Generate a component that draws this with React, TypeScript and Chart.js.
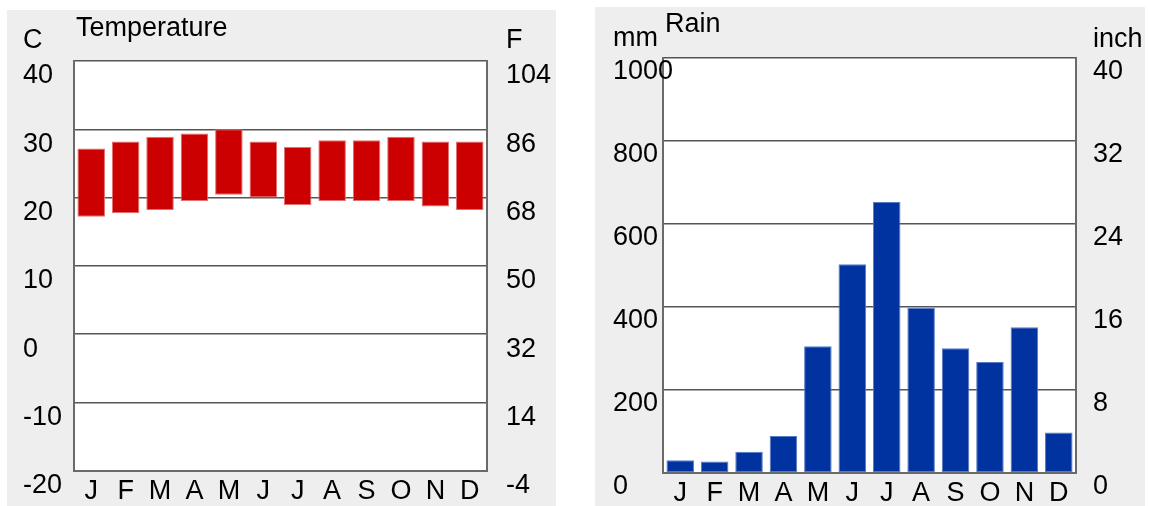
import React, { useEffect, useRef } from "react";
import { Chart, registerables } from "chart.js";

Chart.register(...registerables);

const FONT = '"Liberation Sans", Arial, sans-serif';
const FONT_SIZE = 27;

const months = ["J", "F", "M", "A", "M", "J", "J", "A", "S", "O", "N", "D"];
const tempLow = [17.2, 17.7, 18.2, 19.5, 20.4, 20.0, 18.9, 19.5, 19.5, 19.5, 18.7, 18.2];
const tempHigh = [27.2, 28.2, 28.9, 29.4, 30.0, 28.2, 27.4, 28.4, 28.4, 28.9, 28.2, 28.2];
const rainMm = [30, 27, 51, 89, 305, 503, 653, 398, 300, 267, 351, 97];

const celsiusRange = [-20, 40, 10];
const fahrenheitRange = [-4, 104, 18];
const mmRange = [0, 1000, 200];
const inchRange = [0, 40, 8];

const GRID = "#555555";
const BORDER = "#6a6a6a";

const whiteArea = {
  id: "whiteArea",
  beforeDraw(chart: any) {
    const { ctx, chartArea } = chart;
    ctx.save();
    ctx.fillStyle = "#ffffff";
    ctx.fillRect(chartArea.left, chartArea.top, chartArea.right - chartArea.left, chartArea.bottom - chartArea.top);
    ctx.restore();
  },
};

function textPlugin(items: { t: string; x: number; y: number }[]) {
  return {
    id: "panelText",
    afterDraw(chart: any) {
      const ctx = chart.ctx;
      ctx.save();
      ctx.font = `${FONT_SIZE}px ${FONT}`;
      ctx.fillStyle = "#000";
      ctx.textAlign = "left";
      ctx.textBaseline = "alphabetic";
      items.forEach((it) => ctx.fillText(it.t, it.x, it.y));
      ctx.restore();
    },
  };
}

function fixSize(prop: "width" | "height", v: number) {
  return (scale: any) => {
    scale[prop] = v;
  };
}

const plain = (v: any) => String(v);
const tickFont = { family: FONT, size: FONT_SIZE, lineHeight: 1.2 };

function TempChart() {
  const ref = useRef<HTMLCanvasElement>(null);
  useEffect(() => {
    const chart = new Chart(ref.current!, {
      type: "bar",
      data: {
        labels: months,
        datasets: [
          {
            data: tempLow.map((l, i) => [l, tempHigh[i]]) as any,
            backgroundColor: "#cc0000",
            borderColor: "#e27070",
            borderWidth: 1,
            borderSkipped: false,
            barPercentage: 0.8,
            categoryPercentage: 1,
            yAxisID: "y",
          },
        ],
      },
      options: {
        animation: false,
        responsive: false,
        maintainAspectRatio: false,
        layout: { padding: { left: 16, top: 51, right: 0, bottom: 0 } },
        plugins: { legend: { display: false }, tooltip: { enabled: false } },
        scales: {
          x: {
            afterFit: fixSize("height", 31),
            grid: { display: false, drawTicks: false },
            border: { display: true, color: BORDER, width: 2 },
            ticks: { font: tickFont, color: "#000", padding: 5, autoSkip: false, maxRotation: 0 },
          },
          y: {
            position: "left",
            min: celsiusRange[0],
            max: celsiusRange[1],
            afterFit: fixSize("width", 51),
            grid: { color: GRID, lineWidth: 1.5, drawTicks: false },
            border: { display: true, color: BORDER, width: 2 },
            ticks: { stepSize: celsiusRange[2], font: tickFont, color: "#000", crossAlign: "far", labelOffset: 15, padding: 0, callback: plain },
          },
          y2: {
            position: "right",
            min: fahrenheitRange[0],
            max: fahrenheitRange[1],
            afterFit: fixSize("width", 69),
            grid: { display: false, drawTicks: false },
            border: { display: true, color: BORDER, width: 2 },
            ticks: { stepSize: fahrenheitRange[2], font: tickFont, color: "#000", crossAlign: "near", labelOffset: 15, padding: 19, callback: plain },
          },
        },
      },
      plugins: [
        whiteArea,
        textPlugin([
          { t: "C", x: 16, y: 38 },
          { t: "Temperature", x: 69, y: 26 },
          { t: "F", x: 499, y: 38 },
        ]),
      ],
    });
    return () => chart.destroy();
  }, []);
  return <canvas ref={ref} width={549} height={496} style={{ display: "block", background: "#eeeeee" }} />;
}

function RainChart() {
  const ref = useRef<HTMLCanvasElement>(null);
  useEffect(() => {
    const chart = new Chart(ref.current!, {
      type: "bar",
      data: {
        labels: months,
        datasets: [
          {
            data: rainMm,
            backgroundColor: "#0032a0",
            borderColor: "#5a7ac8",
            borderWidth: 1,
            borderSkipped: false,
            barPercentage: 0.8,
            categoryPercentage: 1,
            yAxisID: "y",
          },
        ],
      },
      options: {
        animation: false,
        responsive: false,
        maintainAspectRatio: false,
        layout: { padding: { left: 18, top: 51, right: 0, bottom: 0 } },
        plugins: { legend: { display: false }, tooltip: { enabled: false } },
        scales: {
          x: {
            afterFit: fixSize("height", 33),
            grid: { display: false, drawTicks: false },
            border: { display: true, color: BORDER, width: 2 },
            ticks: { font: tickFont, color: "#000", padding: 5, autoSkip: false, maxRotation: 0 },
          },
          y: {
            position: "left",
            min: mmRange[0],
            max: mmRange[1],
            afterFit: fixSize("width", 50),
            grid: { color: GRID, lineWidth: 1.5, drawTicks: false },
            border: { display: true, color: BORDER, width: 2 },
            ticks: { stepSize: mmRange[2], font: tickFont, color: "#000", mirror: true, labelOffset: 14, padding: -50, callback: plain },
          },
          y2: {
            position: "right",
            min: inchRange[0],
            max: inchRange[1],
            afterFit: fixSize("width", 69),
            grid: { display: false, drawTicks: false },
            border: { display: true, color: BORDER, width: 2 },
            ticks: { stepSize: inchRange[2], font: tickFont, color: "#000", crossAlign: "near", labelOffset: 14, padding: 17, callback: plain },
          },
        },
      },
      plugins: [
        whiteArea,
        textPlugin([
          { t: "mm", x: 18, y: 39 },
          { t: "Rain", x: 70, y: 25 },
          { t: "inch", x: 498, y: 40 },
        ]),
      ],
    });
    return () => chart.destroy();
  }, []);
  return <canvas ref={ref} width={550} height={499} style={{ display: "block", background: "#eeeeee" }} />;
}

export default function App() {
  return (
    <div style={{ position: "absolute", left: 0, top: 0, width: 1149, height: 506, background: "#ffffff", overflow: "hidden" }}>
      <div style={{ position: "absolute", left: 7, top: 10 }}>
        <TempChart />
      </div>
      <div style={{ position: "absolute", left: 595, top: 7 }}>
        <RainChart />
      </div>
    </div>
  );
}
